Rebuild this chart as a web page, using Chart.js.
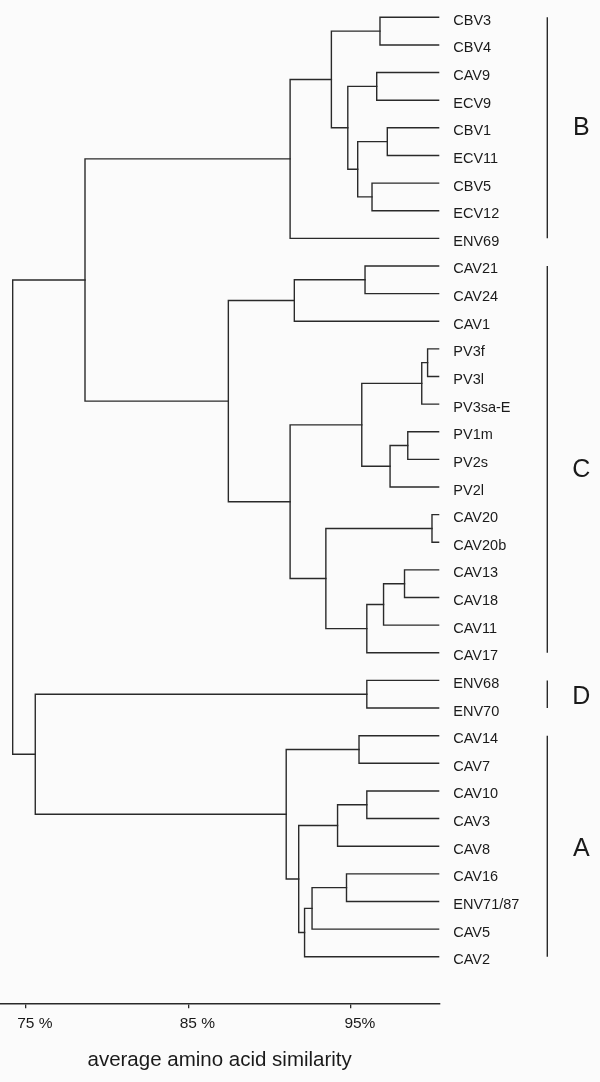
<!DOCTYPE html>
<html>
<head>
<meta charset="utf-8">
<script src="https://cdn.jsdelivr.net/npm/chart.js@4"></script>
<style>
  html, body { margin: 0; padding: 0; background: #fbfbfb; }
  #wrap { width: 600px; height: 1082px; position: relative; }
</style>
</head>
<body>
<div id="wrap"><canvas id="tree"></canvas></div>
<script>
// leaves, top to bottom
var leaves = ['CBV3', 'CBV4', 'CAV9', 'ECV9', 'CBV1', 'ECV11', 'CBV5', 'ECV12', 'ENV69',
  'CAV21', 'CAV24', 'CAV1', 'PV3f', 'PV3l', 'PV3sa-E', 'PV1m', 'PV2s', 'PV2l',
  'CAV20', 'CAV20b', 'CAV13', 'CAV18', 'CAV11', 'CAV17',
  'ENV68', 'ENV70',
  'CAV14', 'CAV7', 'CAV10', 'CAV3', 'CAV8', 'CAV16', 'ENV71/87', 'CAV5', 'CAV2'];

// where the leaf branches end on the similarity axis
var leafTip = 100.44;

// merges: [child, child, similarity %]; a number refers to an earlier merge
var merges = [
  ['CBV3', 'CBV4', 96.79],     // 0
  ['CAV9', 'ECV9', 96.59],     // 1
  ['CBV1', 'ECV11', 97.24],    // 2
  ['CBV5', 'ECV12', 96.30],    // 3
  [2, 3, 95.42],               // 4
  [1, 4, 94.81],               // 5
  [0, 5, 93.80],               // 6
  [6, 'ENV69', 91.26],         // 7
  ['CAV21', 'CAV24', 95.87],   // 8
  [8, 'CAV1', 91.52],          // 9
  ['PV3f', 'PV3l', 99.72],     // 10
  [10, 'PV3sa-E', 99.36],      // 11
  ['PV1m', 'PV2s', 98.50],     // 12
  [12, 'PV2l', 97.41],         // 13
  [11, 13, 95.67],             // 14
  ['CAV20', 'CAV20b', 99.99],  // 15
  ['CAV13', 'CAV18', 98.30],   // 16
  [16, 'CAV11', 97.01],        // 17
  [17, 'CAV17', 95.98],        // 18
  [15, 18, 93.46],             // 19
  [14, 19, 91.26],             // 20
  [9, 20, 87.46],              // 21
  [7, 21, 78.64],              // 22
  ['ENV68', 'ENV70', 95.98],   // 23
  ['CAV14', 'CAV7', 95.50],    // 24
  ['CAV10', 'CAV3', 95.98],    // 25
  [25, 'CAV8', 94.18],         // 26
  ['CAV16', 'ENV71/87', 94.73],// 27
  [27, 'CAV5', 92.61],         // 28
  [28, 'CAV2', 92.15],         // 29
  [26, 29, 91.79],             // 30
  [24, 30, 91.02],             // 31
  [23, 31, 75.58],             // 32
  [22, 32, 74.19]              // 33
];

// clusters marked on the right
var groupNames = ['B', 'C', 'D', 'A'];
var groupFirst = ['CBV3', 'CAV21', 'ENV68', 'CAV14'];
var groupLast = ['ENV69', 'CAV17', 'ENV70', 'CAV2'];
var groupLabelRow = [4, 16.4, 24.6, 30.1];

var tickValues = [75, 85, 95];
var tickLabels = ['75 %', '85 %', '95%'];

var LINE = '#2a2a2a';
var TEXT = '#1a1a1a';
var FONT = "'Liberation Sans', Arial, Helvetica, sans-serif";

// build one U-shaped path per merge
var nodes = [];
function pos(ref) {
  if (typeof ref === 'number') return nodes[ref];
  return { x: leafTip, y: leaves.indexOf(ref) };
}
var datasets = merges.map(function (m) {
  var p = pos(m[0]), q = pos(m[1]);
  nodes.push({ x: m[2], y: (p.y + q.y) / 2 });
  return {
    data: [{ x: p.x, y: p.y }, { x: m[2], y: p.y }, { x: m[2], y: q.y }, { x: q.x, y: q.y }],
    borderColor: LINE,
    borderWidth: 1.4,
    pointRadius: 0,
    tension: 0,
    fill: false,
    borderCapStyle: 'square',
    borderJoinStyle: 'miter'
  };
});

// group bars and letters to the right of the names
var groupMarks = {
  id: 'groupMarks',
  afterDraw: function (chart) {
    var ctx = chart.ctx;
    var y = chart.scales.y;
    var barX = chart.chartArea.right + 108;
    var letterX = chart.chartArea.right + 142;
    ctx.save();
    ctx.strokeStyle = LINE;
    ctx.lineWidth = 1.4;
    ctx.fillStyle = TEXT;
    ctx.font = '25px ' + FONT;
    ctx.textAlign = 'center';
    ctx.textBaseline = 'middle';
    groupNames.forEach(function (g, i) {
      ctx.beginPath();
      ctx.moveTo(barX, y.getPixelForValue(leaves.indexOf(groupFirst[i])));
      ctx.lineTo(barX, y.getPixelForValue(leaves.indexOf(groupLast[i])));
      ctx.stroke();
      ctx.fillText(g, letterX, y.getPixelForValue(groupLabelRow[i]));
    });
    ctx.restore();
  }
};

var bg = {
  id: 'bg',
  beforeDraw: function (chart) {
    var ctx = chart.ctx;
    ctx.save();
    ctx.fillStyle = '#fbfbfb';
    ctx.fillRect(0, 0, chart.width, chart.height);
    ctx.restore();
  }
};

new Chart(document.getElementById('tree').getContext('2d'), {
  type: 'line',
  data: { datasets: datasets },
  plugins: [bg, groupMarks],
  options: {
    responsive: true,
    maintainAspectRatio: false,
    animation: false,
    layout: { padding: { left: 0, right: 0, top: 0, bottom: 9.5 } },
    plugins: { legend: { display: false }, tooltip: { enabled: false } },
    scales: {
      x: {
        type: 'linear',
        min: 73.41,
        max: 100.44,
        afterBuildTicks: function (scale) {
          scale.ticks = tickValues.map(function (v) { return { value: v }; });
        },
        afterFit: function (scale) {
          scale.paddingLeft = 0;
          scale.paddingRight = 0;
        },
        grid: { drawOnChartArea: false, drawTicks: true, tickLength: 5, color: LINE, lineWidth: 1.3 },
        border: { display: true, color: LINE, width: 1.4 },
        ticks: {
          autoSkip: false,
          maxRotation: 0,
          padding: 6,
          labelOffset: 9,
          color: TEXT,
          font: { family: FONT, size: 15.5 },
          callback: function (v, i) { return tickLabels[i]; }
        },
        title: {
          display: true,
          text: 'average amino acid similarity',
          color: TEXT,
          font: { family: FONT, size: 20.5 },
          padding: { top: 9, bottom: 0 }
        }
      },
      y: {
        type: 'linear',
        position: 'right',
        reverse: true,
        min: -0.626,
        max: 35.686,
        afterBuildTicks: function (scale) {
          scale.ticks = leaves.map(function (n, i) { return { value: i }; });
        },
        afterFit: function (scale) {
          scale.width = 160.7;
          scale.paddingTop = 0;
          scale.paddingBottom = 0;
        },
        grid: { display: false, drawTicks: false },
        border: { display: false },
        ticks: {
          autoSkip: false,
          padding: 14,
          labelOffset: 3.5,
          color: TEXT,
          font: { family: FONT, size: 14.5 },
          callback: function (v) { return leaves[v]; }
        }
      }
    }
  }
});
</script>
</body>
</html>
